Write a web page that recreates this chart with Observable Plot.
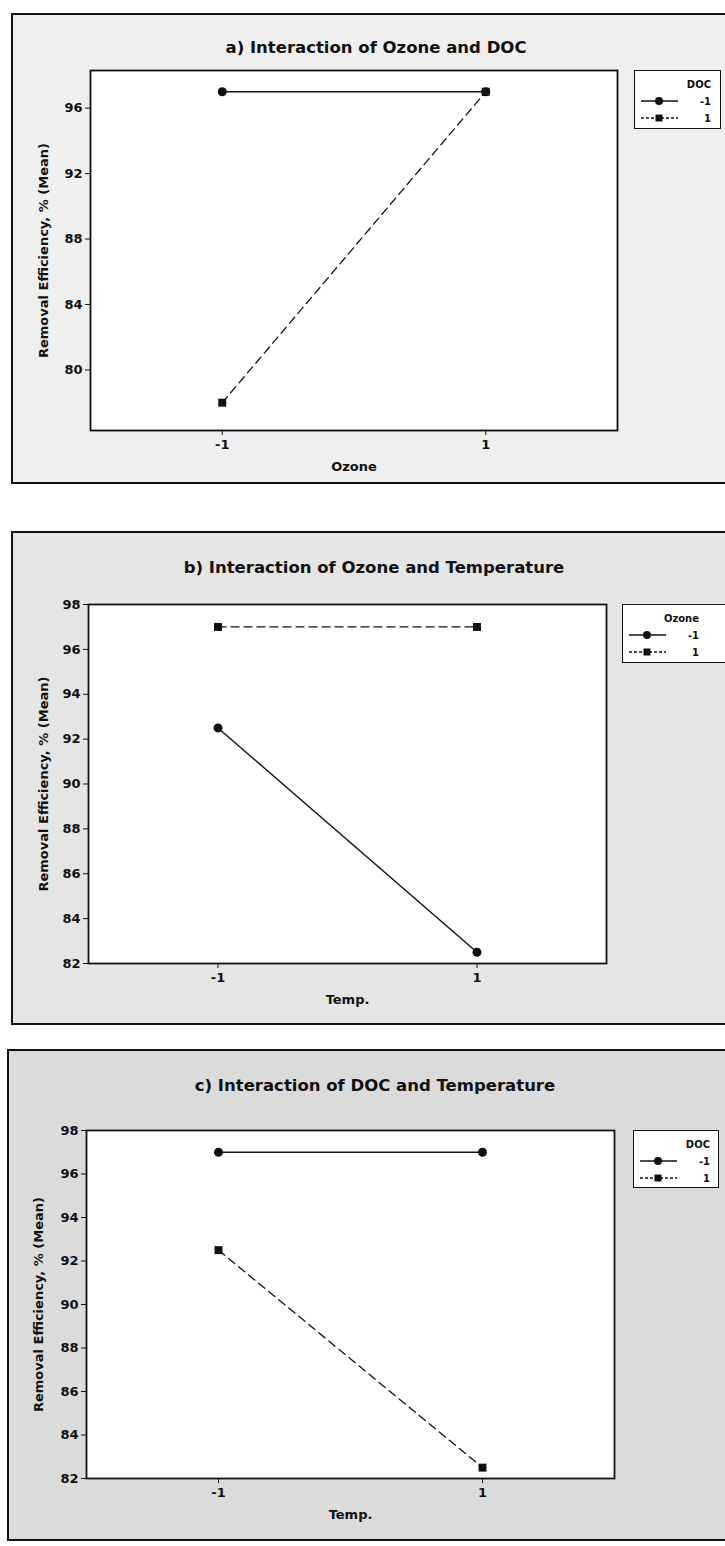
<!DOCTYPE html>
<html><head><meta charset="utf-8">
<script src="https://cdn.jsdelivr.net/npm/d3@7"></script>
<script src="https://cdn.jsdelivr.net/npm/@observablehq/plot@0.6"></script>
<style>
html,body{margin:0;padding:0;}
body{background:#fff;width:725px;height:1546px;position:relative;overflow:hidden;font-family:"DejaVu Sans",sans-serif;color:#111;}
.box{position:absolute;border:2px solid #111;box-sizing:border-box;}
.title{position:absolute;font-weight:bold;font-size:16.5px;transform:translate(-50%,-50%);white-space:nowrap;}
.plot{position:absolute;left:0;}
.legend{position:absolute;background:#fff;border:1.5px solid #111;box-sizing:border-box;}
</style></head><body>
<script>
// ---------- data ----------
const xLevels = [-1, 1];                    // factor levels on the x axis (tick values)
const seriesLevels = ["-1", "1"];           // legend entries
const yLabel = "Removal Efficiency, % (Mean)";

// a) Ozone (x) by DOC (series)
const aTitle = "a) Interaction of Ozone and DOC";
const aXLabel = "Ozone";
const aSeries = "DOC";
const aLow = [97, 97];     // DOC = -1
const aHigh = [78, 97];    // DOC = 1
const aYTicks = [80, 84, 88, 92, 96];

// b) Temp (x) by Ozone (series)
const bTitle = "b) Interaction of Ozone and Temperature";
const bXLabel = "Temp.";
const bSeries = "Ozone";
const bLow = [92.5, 82.5]; // Ozone = -1
const bHigh = [97, 97];    // Ozone = 1
const bYTicks = [82, 84, 86, 88, 90, 92, 94, 96, 98];

// c) Temp (x) by DOC (series)
const cTitle = "c) Interaction of DOC and Temperature";
const cXLabel = "Temp.";
const cSeries = "DOC";
const cLow = [97, 97];     // DOC = -1
const cHigh = [92.5, 82.5];// DOC = 1
const cYTicks = [82, 84, 86, 88, 90, 92, 94, 96, 98];

// ---------- layout ----------
const panels = [
  {title: aTitle, xLabel: aXLabel, series: aSeries, low: aLow, high: aHigh, yTicks: aYTicks, yDomain: [76.3, 98.3],
   box: [11, 13, 740, 484], frame: [90, 70, 617, 430], titleXY: [376, 47], legend: [634, 70, 721, 129], bg: "#efefef", yLabelOff: 52},
  {title: bTitle, xLabel: bXLabel, series: bSeries, low: bLow, high: bHigh, yTicks: bYTicks, yDomain: [82, 98],
   box: [11, 531, 740, 1025], frame: [88, 604, 606, 963], titleXY: [374, 567], legend: [622, 604, 740, 663], bg: "#e5e5e5", yLabelOff: 50},
  {title: cTitle, xLabel: cXLabel, series: cSeries, low: cLow, high: cHigh, yTicks: cYTicks, yDomain: [82, 98],
   box: [7, 1049, 740, 1541], frame: [86, 1130, 614, 1478], titleXY: [375, 1085], legend: [633, 1130, 719, 1188], bg: "#dbdbdb", yLabelOff: 53}
];

function drawPanel(p) {
  const [bl, bt, br, bb] = p.box;
  const [fl, ft, fr, fb] = p.frame;
  const box = document.createElement("div");
  box.className = "box";
  Object.assign(box.style, {left: bl + "px", top: bt + "px", width: (br - bl) + "px", height: (bb - bt) + "px", background: p.bg});
  document.body.appendChild(box);

  const title = document.createElement("div");
  title.className = "title";
  title.textContent = p.title;
  Object.assign(title.style, {left: p.titleXY[0] + "px", top: p.titleXY[1] + "px"});
  document.body.appendChild(title);

  const low = xLevels.map((x, i) => ({x, y: p.low[i]}));
  const high = xLevels.map((x, i) => ({x, y: p.high[i]}));

  const svg = Plot.plot({
    width: 725,
    height: bb - bt,
    marginLeft: fl, marginRight: 725 - fr, marginTop: ft - bt, marginBottom: bb - fb,
    style: {background: "transparent", fontFamily: "DejaVu Sans, sans-serif", fontSize: "13px", color: "#111", overflow: "visible"},
    x: {domain: [-2, 2], ticks: xLevels, tickFormat: d => String(d), label: p.xLabel, labelArrow: "none", labelAnchor: "center", labelOffset: 40, tickSize: 5, tickPadding: 4},
    y: {domain: p.yDomain, ticks: p.yTicks, tickFormat: d => String(d), label: yLabel, labelArrow: "none", labelAnchor: "center", labelOffset: p.yLabelOff, tickSize: 5, tickPadding: 3},
    marks: [
      Plot.frame({fill: "white"}),
      Plot.frame({stroke: "#111", strokeWidth: 1.8}),
      Plot.line(low, {x: "x", y: "y", stroke: "#111", strokeWidth: 1.4}),
      Plot.line(high, {x: "x", y: "y", stroke: "#111", strokeWidth: 1.3, strokeDasharray: "8,5"}),
      Plot.dot(low, {x: "x", y: "y", r: 4.5, fill: "#111", symbol: "circle"}),
      Plot.dot(high, {x: "x", y: "y", r: 4.5, fill: "#111", symbol: "square"})
    ]
  });
  svg.classList.add("plot");
  svg.style.position = "absolute";
  svg.style.left = "0px";
  svg.style.top = bt + "px";
  svg.querySelectorAll('[aria-label="x-axis label"], [aria-label="y-axis label"], [aria-label="x-axis tick label"], [aria-label="y-axis tick label"]').forEach(g => {
    g.setAttribute("font-weight", "bold");
  });
  document.body.appendChild(svg);

  // legend
  const [ll, lt, lr, lb] = p.legend;
  const leg = document.createElement("div");
  leg.className = "legend";
  const lw = lr - ll, lh = lb - lt;
  Object.assign(leg.style, {left: ll + "px", top: lt + "px", width: lw + "px", height: lh + "px"});
  document.body.appendChild(leg);
  const ls = d3.select(leg).append("svg").attr("width", lw).attr("height", lh)
    .style("position", "absolute").style("left", "0").style("top", "0")
    .attr("font-family", "DejaVu Sans, sans-serif").attr("font-weight", "bold").attr("font-size", 10).attr("fill", "#111");
  const textX = 76;
  ls.append("text").attr("x", textX).attr("y", 13).attr("dy", "0.35em").attr("text-anchor", "end").text(p.series);
  seriesLevels.forEach((s, i) => {
    const y = 30 + i * 17;
    ls.append("line").attr("x1", 6).attr("x2", 43).attr("y1", y).attr("y2", y)
      .attr("stroke", "#111").attr("stroke-width", 1.3).attr("stroke-dasharray", i ? "3,2" : null);
    if (i === 0) ls.append("circle").attr("cx", 24).attr("cy", y).attr("r", 4);
    else ls.append("rect").attr("x", 20.5).attr("y", y - 3.5).attr("width", 7).attr("height", 7);
    ls.append("text").attr("x", textX).attr("y", y).attr("dy", "0.35em").attr("text-anchor", "end").text(s);
  });
}
panels.forEach(drawPanel);
</script>
</body></html>
